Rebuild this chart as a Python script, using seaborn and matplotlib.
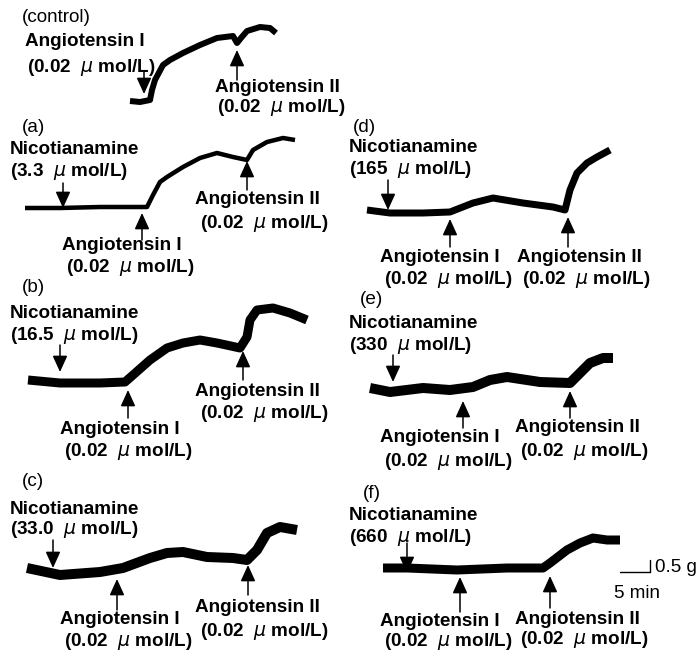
"""
Isometric tension traces: nicotianamine vs angiotensin I / II responses
"""
import matplotlib
matplotlib.use('Agg')
import matplotlib.pyplot as plt
import seaborn as sns
import pandas as pd

# trace points (page pixels)
ctrl_x = [130, 140, 150, 152, 155, 163, 170, 183, 200, 217, 233, 237, 241, 247, 260, 270, 276]
ctrl_y = [101, 102, 100, 90, 80, 65, 60, 53, 45, 38, 36, 43, 38, 31, 27, 28, 33]
a_x = [25, 60, 100, 147, 153, 160, 167, 183, 200, 217, 233, 247, 253, 267, 283, 295]
a_y = [208, 208, 207, 207, 195, 182, 177, 167, 158, 153, 157, 160, 150, 142, 138, 140]
b_x = [28, 60, 100, 125, 133, 150, 167, 183, 200, 217, 240, 247, 250, 257, 273, 290, 307]
b_y = [380, 383, 383, 382, 375, 360, 348, 343, 340, 343, 348, 337, 320, 310, 308, 313, 320]
c_x = [27, 60, 100, 123, 150, 167, 183, 207, 233, 247, 257, 267, 280, 297]
c_y = [568, 575, 572, 568, 558, 553, 552, 557, 558, 560, 550, 533, 527, 530]
d_x = [367, 390, 423, 450, 473, 493, 523, 553, 565, 570, 577, 580, 587, 597, 610]
d_y = [210, 213, 213, 212, 203, 198, 203, 207, 210, 190, 173, 170, 163, 157, 150]
e_x = [370, 390, 423, 450, 473, 490, 507, 540, 570, 580, 590, 603, 613]
e_y = [388, 392, 388, 390, 387, 380, 377, 382, 383, 373, 363, 358, 358]
f_x = [383, 407, 457, 507, 543, 550, 567, 580, 593, 607, 620]
f_y = [568, 568, 570, 568, 568, 563, 550, 543, 538, 540, 540]

panel_tags = ['(a)', '(b)', '(c)', '(d)', '(e)', '(f)']
doses = ['3.3', '16.5', '33.0', '165', '330', '660']
conc = '(0.02  $\\mu$ mol/L)'

sns.set_theme(style='white')
plt.rcParams['font.family'] = ['Liberation Sans', 'DejaVu Sans']

fig = plt.figure(figsize=(6.97, 6.55), dpi=100)
ax = fig.add_axes([0, 0, 1, 1])

# noisy band thickness in px for each recording
traces = [(ctrl_x, ctrl_y, 6), (a_x, a_y, 4.5), (b_x, b_y, 9), (c_x, c_y, 10),
          (d_x, d_y, 7), (e_x, e_y, 10), (f_x, f_y, 9)]
for xs, ys, band in traces:
    df = pd.DataFrame({'x': xs, 'y': ys})
    sns.lineplot(data=df, x='x', y='y', sort=False, estimator=None, ax=ax,
                 color='black', linewidth=band * 0.72, solid_joinstyle='round',
                 solid_capstyle='butt')
ax.set_xlim(0, 697)
ax.set_ylim(655, 0)
ax.axis('off')


def arrow(x, tail, tip):
    ax.annotate('', xy=(x, tip), xytext=(x, tail),
                arrowprops=dict(arrowstyle='-|>,head_length=0.55,head_width=0.25',
                                mutation_scale=18, lw=1.1,
                                color='black', shrinkA=0, shrinkB=0))


def txt(x, y, s, bold=True, ha='left'):
    ax.text(x, y, s, ha=ha, va='center', fontsize=13.6,
            fontweight='bold' if bold else 'normal', color='black')


# control
txt(22, 17, '(control)', bold=False)
txt(25, 42, 'Angiotensin I')
txt(27, 68, conc)
txt(215, 88, 'Angiotensin II')
txt(217, 108, conc)
arrow(144, 72, 94)
arrow(237, 80, 50)

# left column (a)-(c), right column (d)-(f)
tag_pos = [(22, 127), (22, 288), (22, 482), (353, 127), (360, 300), (363, 493)]
nico_pos = [(10, 150, 172), (10, 313, 335), (10, 510, 530),
            (349, 148, 170), (349, 323, 346), (349, 515, 538)]
ang1_pos = [(62, 245, 267), (60, 430, 452), (60, 620, 642),
            (380, 257, 280), (380, 438, 461), (380, 622, 642)]
ang2_pos = [(195, 200, 223), (195, 392, 413), (195, 608, 632),
            (517, 257, 280), (515, 428, 452), (515, 620, 640)]
nico_arrows = [(63, 183, 208), (60, 345, 372), (53, 540, 568),
               (388, 180, 210), (393, 355, 382), (407, 543, 573)]
ang1_arrows = [(142, 240, 213), (128, 418, 390), (117, 610, 579),
               (450, 247, 219), (463, 428, 401), (460, 612, 577)]
ang2_arrows = [(247, 190, 161), (243, 380, 351), (248, 595, 565),
               (568, 247, 217), (570, 418, 391), (550, 608, 576)]

for i, tag in enumerate(panel_tags):
    txt(*tag_pos[i], tag, bold=False)
    nx, ny1, ny2 = nico_pos[i]
    txt(nx, ny1, 'Nicotianamine')
    txt(nx, ny2, '(' + doses[i] + '  $\\mu$ mol/L)')
    x1, y1a, y1b = ang1_pos[i]
    txt(x1, y1a, 'Angiotensin I')
    txt(x1 + 4, y1b, conc)
    x2, y2a, y2b = ang2_pos[i]
    txt(x2, y2a, 'Angiotensin II')
    txt(x2 + 5, y2b, conc)
    arrow(*nico_arrows[i])
    arrow(*ang1_arrows[i])
    arrow(*ang2_arrows[i])

# scale bar
ax.plot([620, 650], [572, 572], color='black', lw=1)
ax.plot([650, 650], [560, 572], color='black', lw=1)
txt(655, 567, '0.5 g', bold=False)
txt(637, 593, '5 min', bold=False, ha='center')

plt.savefig('out.png', dpi=100)
plt.close()
